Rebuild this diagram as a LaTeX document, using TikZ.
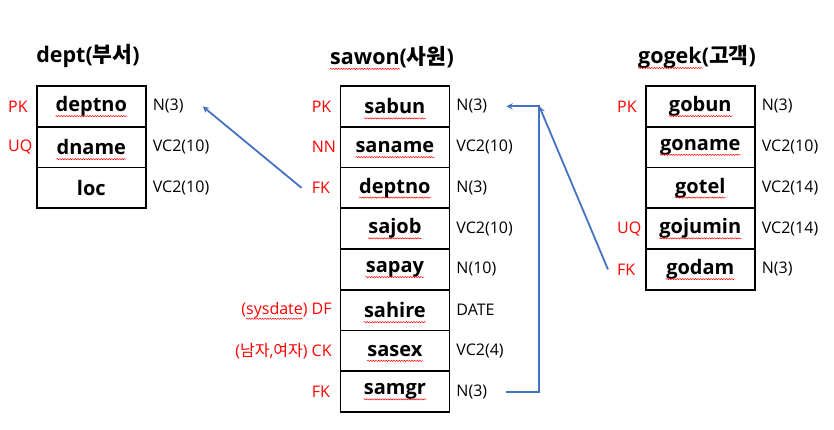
\documentclass[tikz,border=0pt]{standalone}
\usepackage{fontspec}
\setmainfont{Open Sans}
\newfontfamily\kr{Noto Sans CJK KR}
\usetikzlibrary{positioning,decorations.pathmorphing}
\definecolor{linkblue}{RGB}{68,114,196}
\newcommand{\squig}[1]{\tikz[baseline=(w.base)]{\node[inner sep=0pt,minimum width=0pt,minimum height=0pt,draw=none,anchor=center] (w) {#1};
	\draw[overlay,red,line width=.5pt,decorate,decoration={snake,amplitude=.6pt,segment length=2.6pt}] ([yshift=-4.5pt]w.base west) -- ([yshift=-4.5pt]w.base east);}}
\begin{document}
\begin{tikzpicture}[x=1pt,y=-1pt,>=stealth,
		field/.style={draw,line width=1.7pt,minimum width=109pt,minimum height=40.75pt,inner sep=0pt,font=\bfseries\fontsize{20}{20}\selectfont},
		dtype/.style={anchor=west,inner sep=0pt,xshift=6pt,font=\fontsize{16}{16}\selectfont},
		cons/.style={anchor=west,inner sep=0pt,xshift=-28pt,text=red,font=\fontsize{16}{16}\selectfont},
		title/.style={font=\bfseries\fontsize{21.5}{21.5}\selectfont},
		link/.style={->,draw=linkblue,line width=1.8pt}]
	\useasboundingbox (0,0) rectangle (834,430);
	% tables
	\node[title] (dept) at (88,56) {dept({\kr 부서})};
	\node[title] (sawon) at (392,57) {\squig{sawon}({\kr 사원})};
	\node[title] (gogek) at (697,57) {\squig{gogek}({\kr 고객})};
	\foreach \f/\t/\c [count=\i from 0] in {deptno/N(3)/PK,dname/VC2(10)/UQ,loc/VC2(10)/{}}{
		\node[field] (dept-\f) at (91.3,106.4+40.75*\i) {\ifnum\i<2 \squig{\f}\else\f\fi};
		\node[dtype] (dept-\f-t) at (dept-\f.east) {\t};
		\node[cons] (dept-\f-c) at (dept-\f.west) {\c};
	}
	\foreach \f/\t/\c [count=\i from 0] in {sabun/N(3)/PK,saname/VC2(10)/NN,deptno/N(3)/FK,sajob/VC2(10)/{},sapay/N(10)/{},
			sahire/DATE/{\llap{(\squig{sysdate})\ }DF},sasex/VC2(4)/{\llap{({\kr 남자},{\kr 여자})\ }CK},samgr/N(3)/FK}{
		\node[field] (sawon-\f) at (394.9,106.4+40.75*\i) {\squig{\f}};
		\node[dtype] (sawon-\f-t) at (sawon-\f.east) {\t};
		\node[cons] (sawon-\f-c) at (sawon-\f.west) {\c};
	}
	\foreach \f/\t/\c [count=\i from 0] in {gobun/N(3)/PK,goname/VC2(10)/{},gotel/VC2(14)/{},gojumin/VC2(14)/UQ,godam/N(3)/FK}{
		\node[field] (gogek-\f) at (700.3,106.4+40.75*\i) {\squig{\f}};
		\node[dtype] (gogek-\f-t) at (gogek-\f.east) {\t};
		\node[cons] (gogek-\f-c) at (gogek-\f.west) {\c};
	}
	% references
	\coordinate (bend) at ([xshift=52pt]sawon-sabun-t.east);
	\draw[link] ([xshift=-10pt]sawon-deptno-c.west) -- ([xshift=19pt]dept-deptno-t.east);
	\draw[link] ([xshift=19pt]sawon-samgr-t.east) -| (bend) -- ([xshift=19pt]sawon-sabun-t.east);
	\draw[link] ([xshift=-9pt]gogek-godam-c.west) -- (bend);
\end{tikzpicture}
\end{document}
